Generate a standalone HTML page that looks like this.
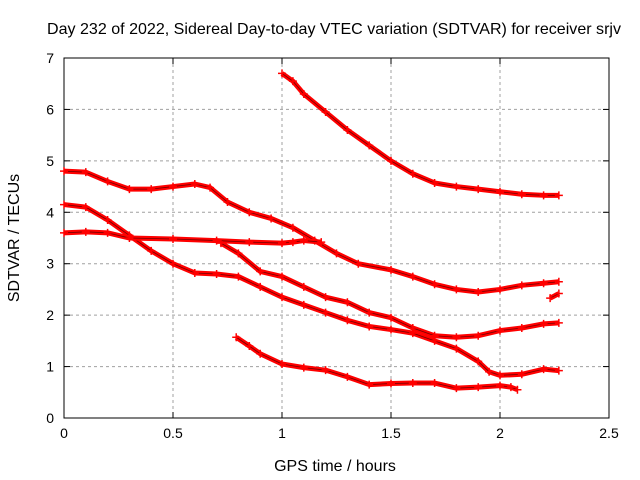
<!DOCTYPE html>
<html><head><meta charset="utf-8"><style>
body{margin:0;background:#fff;}
svg{display:block;font-family:"Liberation Sans",sans-serif;}
</style></head><body>
<svg id="chart" width="640" height="480" viewBox="0 0 640 480">
<text x="334" y="34" font-size="16" text-anchor="middle" textLength="574" lengthAdjust="spacingAndGlyphs">Day 232 of 2022, Sidereal Day-to-day VTEC variation (SDTVAR) for receiver srjv</text>
<g id="grid"></g>
<g id="axes"></g>
<g id="series"></g>
<text x="335" y="471" font-size="16" text-anchor="middle">GPS time / hours</text>
<text transform="translate(19,238) rotate(-90)" font-size="16" text-anchor="middle">SDTVAR / TECUs</text>
</svg>
<script>
const xTicks=[0,0.5,1,1.5,2,2.5];
const xTickLabels=["0","0.5","1","1.5","2","2.5"];
const yTicks=[0,1,2,3,4,5,6,7];
const yTickLabels=["0","1","2","3","4","5","6","7"];
const s1x=[1.0,1.05,1.1,1.2,1.3,1.4,1.5,1.6,1.7,1.8,1.9,2.0,2.1,2.2,2.27];
const s1y=[6.7,6.55,6.3,5.95,5.6,5.3,5.0,4.75,4.57,4.5,4.45,4.4,4.35,4.33,4.33];
const s2x=[0,0.1,0.2,0.3,0.4,0.5,0.6,0.67,0.75,0.85,0.95,1.05,1.15,1.25,1.35,1.5,1.6,1.7,1.8,1.9,2.0,2.1,2.2,2.27];
const s2y=[4.8,4.78,4.6,4.45,4.45,4.5,4.55,4.48,4.2,4.0,3.88,3.7,3.45,3.2,3.0,2.88,2.75,2.6,2.5,2.45,2.5,2.58,2.62,2.65];
const s3x=[0,0.1,0.2,0.3,0.4,0.5,0.6,0.7,0.8,0.9,1.0,1.1,1.2,1.3,1.4,1.5,1.6,1.7,1.8,1.9,1.95,2.0,2.1,2.2,2.27];
const s3y=[4.15,4.1,3.85,3.55,3.25,3.0,2.82,2.8,2.75,2.55,2.35,2.2,2.05,1.9,1.78,1.72,1.65,1.5,1.35,1.1,0.9,0.83,0.85,0.95,0.92];
const s4x=[0,0.1,0.2,0.3,0.5,0.7,0.85,1.0,1.05,1.1,1.18];
const s4y=[3.6,3.62,3.6,3.5,3.48,3.45,3.42,3.4,3.42,3.45,3.42];
const s5x=[0.72,0.8,0.9,1.0,1.1,1.2,1.3,1.4,1.5,1.6,1.7,1.8,1.9,2.0,2.1,2.2,2.27];
const s5y=[3.4,3.2,2.85,2.75,2.55,2.35,2.25,2.05,1.95,1.75,1.6,1.57,1.6,1.7,1.75,1.83,1.85];
const s6x=[0.79,0.85,0.9,1.0,1.1,1.2,1.3,1.4,1.5,1.6,1.7,1.8,1.9,2.0,2.05,2.08];
const s6y=[1.57,1.4,1.25,1.05,0.98,0.93,0.8,0.65,0.67,0.68,0.68,0.58,0.6,0.63,0.6,0.55];
const s7x=[2.23,2.27];
const s7y=[2.33,2.42];
const X0=64,X1=609,Y0=418,Y1=58;
const sx=v=>X0+(v-0)/(2.5)*(X1-X0);
const sy=v=>Y0-(v/7)*(Y0-Y1);
const NS="http://www.w3.org/2000/svg";
function mk(t,a,p){const e=document.createElementNS(NS,t);for(const k in a)e.setAttribute(k,a[k]);p.appendChild(e);return e;}
const grid=document.getElementById('grid'),axes=document.getElementById('axes'),ser=document.getElementById('series');
xTicks.forEach((v,i)=>{
 if(v>0&&v<2.5){const l=mk('line',{x1:sx(v),x2:sx(v),y1:Y1,y2:Y0,stroke:'#a0a0a0','stroke-dasharray':'3,3'},grid);
 
 }
 mk('line',{x1:sx(v),x2:sx(v),y1:Y0,y2:Y0-6,stroke:'#000'},axes);
 mk('line',{x1:sx(v),x2:sx(v),y1:Y1,y2:Y1+6,stroke:'#000'},axes);
 const t=mk('text',{x:sx(v),y:Y0+20,'font-size':14,'text-anchor':'middle'},axes);t.textContent=xTickLabels[i];
 
 
});
yTicks.forEach((v,i)=>{
 if(v>0&&v<7){const l=mk('line',{x1:X0,x2:X1,y1:sy(v),y2:sy(v),stroke:'#a0a0a0','stroke-dasharray':'3,3'},grid);
 
 }
 mk('line',{x1:X0,x2:X0+6,y1:sy(v),y2:sy(v),stroke:'#000'},axes);
 mk('line',{x1:X1,x2:X1-6,y1:sy(v),y2:sy(v),stroke:'#000'},axes);
 const t=mk('text',{x:X0-10,y:sy(v)+5,'font-size':14,'text-anchor':'end'},axes);t.textContent=yTickLabels[i];
 
 
});
mk('rect',{x:X0,y:Y1,width:X1-X0,height:Y0-Y1,fill:'none',stroke:'#000'},axes);
const all=[[s1x,s1y],[s2x,s2y],[s3x,s3y],[s4x,s4y],[s5x,s5y],[s6x,s6y],[s7x,s7y]];
all.forEach((s,k)=>{
 const g=mk('g',{},ser);
 
 
 const pts=s[0].map((x,i)=>sx(x)+','+sy(s[1][i])).join(' ');
 mk('polyline',{points:pts,fill:'none',stroke:'#ff0000','stroke-width':5,'stroke-linejoin':'round'},g);
 mk('polyline',{points:pts,fill:'none',stroke:'#700','stroke-width':0.8},g);
 s[0].forEach((x,i)=>{const cx=sx(x),cy=sy(s[1][i]);
  mk('path',{d:`M${cx-4},${cy}h8M${cx},${cy-4}v8`,stroke:'#ff0000','stroke-width':1.5},g);});
});
</script>
</body></html>
